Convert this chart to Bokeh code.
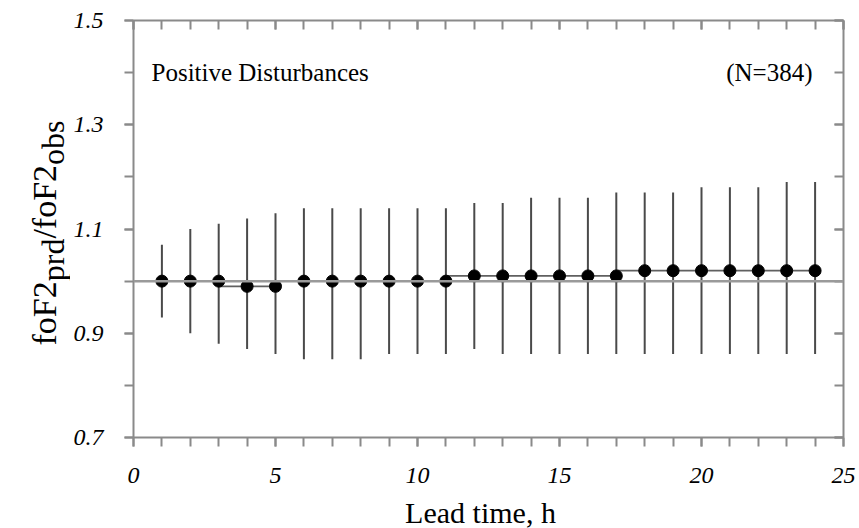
import math
from bokeh.plotting import figure
from bokeh.layouts import row, column
from bokeh.models import (Label, Span, LinearAxis, FixedTicker, Range1d,
                          ColumnDataSource, CustomJSTickFormatter)
from bokeh.embed import file_html
from bokeh.resources import INLINE

# ---------------- data ----------------
lead_time = [1, 2, 3, 4, 5, 6, 7, 8, 9, 10, 11, 12,
             13, 14, 15, 16, 17, 18, 19, 20, 21, 22, 23, 24]
ratio_mean = [1.00, 1.00, 1.00, 0.99, 0.99, 1.00, 1.00, 1.00, 1.00, 1.00, 1.00, 1.01,
              1.01, 1.01, 1.01, 1.01, 1.01, 1.02, 1.02, 1.02, 1.02, 1.02, 1.02, 1.02]
ratio_upper = [1.07, 1.10, 1.11, 1.12, 1.13, 1.14, 1.14, 1.14, 1.14, 1.14, 1.14, 1.15,
               1.15, 1.16, 1.16, 1.16, 1.17, 1.17, 1.17, 1.18, 1.18, 1.18, 1.19, 1.19]
ratio_lower = [0.93, 0.90, 0.88, 0.87, 0.86, 0.85, 0.85, 0.85, 0.86, 0.86, 0.86, 0.87,
               0.86, 0.86, 0.86, 0.86, 0.86, 0.86, 0.86, 0.86, 0.86, 0.86, 0.86, 0.86]
reference_level = 1.0

x_major_ticks = [0, 5, 10, 15, 20, 25]
x_minor_ticks = list(range(0, 26))
y_major_ticks = [0.7, 0.9, 1.1, 1.3, 1.5]
y_minor_ticks = [0.7, 0.8, 0.9, 1.0, 1.1, 1.2, 1.3, 1.4, 1.5]

title_text = "Positive Disturbances"
count_text = "(N=384)"
x_label_text = "Lead time, h"
y_label_parts = [("foF2", False), ("prd", True), ("/foF2", False), ("obs", True)]

# ---------------- style ----------------
SERIF = "Liberation Serif"
AX = "#8a8a8a"
PAGE_W, PAGE_H = 859, 528
LABEL_W = 70          # strip holding the y-axis title
TOP_H = 496           # height of the plot row
XLAB_H = PAGE_H - TOP_H
FRAME_TOP, FRAME_BOTTOM = 20, 437
MID = 0.3375          # baseline lies this many em below the centre of the text box

src = ColumnDataSource(dict(x=lead_time, m=ratio_mean, hi=ratio_upper, lo=ratio_lower))

p = figure(width=PAGE_W - LABEL_W, height=TOP_H,
           x_range=Range1d(0, 25), y_range=Range1d(0.7, 1.5),
           output_backend="svg", toolbar_location=None,
           min_border_left=129 - LABEL_W, min_border_right=16,
           min_border_top=FRAME_TOP, min_border_bottom=TOP_H - FRAME_BOTTOM)
p.grid.visible = False
p.outline_line_color = None
p.background_fill_color = "white"
p.border_fill_color = "white"

blank = CustomJSTickFormatter(code="return ''")


def style_axis(ax, tin, tout, labels):
    ax.axis_line_color = AX
    ax.axis_line_width = 2
    ax.major_tick_line_color = AX
    ax.major_tick_line_width = 2
    ax.minor_tick_line_color = AX
    ax.minor_tick_line_width = 2
    ax.major_tick_in = tin
    ax.major_tick_out = tout
    ax.minor_tick_in = tin
    ax.minor_tick_out = tout
    if labels:
        ax.major_label_text_font = SERIF
        ax.major_label_text_font_style = "italic"
        ax.major_label_text_font_size = "24px"
        ax.major_label_text_color = "black"
    else:
        ax.formatter = blank
        ax.major_label_standoff = 0


bx = p.xaxis[0]
bx.ticker = FixedTicker(ticks=x_major_ticks, minor_ticks=x_minor_ticks)
style_axis(bx, 0, 9, True)
bx.major_label_standoff = 21

ly = p.yaxis[0]
ly.ticker = FixedTicker(ticks=y_major_ticks, minor_ticks=y_minor_ticks)
style_axis(ly, 0, 9, True)
ly.major_label_standoff = 21

tx = LinearAxis(ticker=FixedTicker(ticks=x_major_ticks, minor_ticks=x_minor_ticks))
style_axis(tx, 9, 0, False)
p.add_layout(tx, "above")

ry = LinearAxis(ticker=FixedTicker(ticks=y_major_ticks, minor_ticks=y_minor_ticks))
style_axis(ry, 9, 0, False)
p.add_layout(ry, "right")

# reference line
p.add_layout(Span(location=reference_level, dimension="width",
                  line_color="#9a9a9a", line_width=2.5))

# error bars
p.segment(x0="x", y0="lo", x1="x", y1="hi", source=src,
          line_color="#4a4a4a", line_width=2)
# step line through means
p.step(x="x", y="m", source=src, mode="before",
       line_color="#606060", line_width=1.8)
# mean points
p.scatter(x="x", y="m", source=src, size=12,
          fill_color="black", line_color="black")

# texts inside plot
p.add_layout(Label(x=0, y=1.5, x_offset=18, y_offset=-52, text=title_text,
                   text_font=SERIF, text_font_size="25px", text_color="black",
                   text_baseline="middle", text_align="left"))
p.add_layout(Label(x=25, y=1.5, x_offset=-31, y_offset=-52, text=count_text,
                   text_font=SERIF, text_font_size="25px", text_color="black",
                   text_baseline="middle", text_align="right"))


def strip(w, h, ymax, top=0, bottom=0):
    f = figure(width=w, height=h, x_range=Range1d(0, w), y_range=Range1d(0, ymax),
               x_axis_type=None, y_axis_type=None,
               output_backend="svg", toolbar_location=None, min_border=0,
               min_border_top=top, min_border_bottom=bottom)
    f.outline_line_color = None
    f.background_fill_color = "white"
    f.border_fill_color = "white"
    return f


# ---- y-axis title with subscripts (rotated), in a strip on the left ----
# the strip's frame is given exactly the same vertical extent as the plot frame;
# its data y is "pixels above the frame bottom".
lab = strip(LABEL_W, TOP_H, FRAME_BOTTOM - FRAME_TOP,
            top=FRAME_TOP, bottom=TOP_H - FRAME_BOTTOM)
TIMES_W = {"f": 0.333, "o": 0.5, "F": 0.556, "2": 0.5, "p": 0.5, "r": 0.333,
           "d": 0.5, "/": 0.278, "b": 0.5, "s": 0.389}
MAIN_SIZE, SUB_SIZE = 34, 32
MAIN_BASE_X, SUB_BASE_X = 55, 63      # page x of the (rotated) baselines
start = 345.0                          # page y where the title begins (bottom)
for txt, is_sub in y_label_parts:
    size = SUB_SIZE if is_sub else MAIN_SIZE
    length = sum(TIMES_W[c] for c in txt) * size
    cx = (SUB_BASE_X if is_sub else MAIN_BASE_X) - MID * size
    cy = start - length / 2.0
    lab.add_layout(Label(x=cx, y=FRAME_BOTTOM - cy,
                         text=txt, angle=90, angle_units="deg",
                         text_font=SERIF, text_font_size=f"{size}px", text_color="black",
                         text_baseline="middle", text_align="center"))
    start -= length

# ---- x-axis title, in a strip below ----
XL_SIZE = 30
xlab = strip(PAGE_W, XLAB_H, XLAB_H)
xlab.add_layout(Label(x=480, y=PAGE_H - (522.5 - MID * XL_SIZE), text=x_label_text,
                      text_font=SERIF, text_font_size=f"{XL_SIZE}px", text_color="black",
                      text_baseline="middle", text_align="center"))

layout = column(row(lab, p), xlab)
open("out.html", "w").write(file_html(layout, INLINE))
